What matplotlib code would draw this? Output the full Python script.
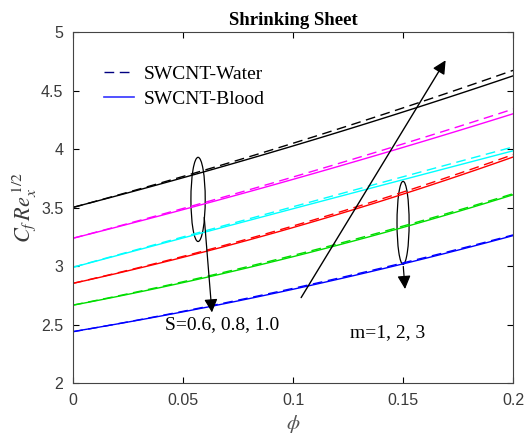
import matplotlib
matplotlib.use("Agg")
import matplotlib.pyplot as plt
import numpy as np
from matplotlib.patches import Ellipse

plt.rcParams['mathtext.fontset'] = 'stix'

phi = [0.0, 0.05, 0.10, 0.15, 0.20]
colors = ['black', 'magenta', 'cyan', 'red', '#00dd00', 'blue']
water = [
    [3.50, 3.77, 4.05, 4.35, 4.675],
    [3.24, 3.49, 3.76, 4.05, 4.34],
    [2.99, 3.25, 3.51, 3.76, 4.02],
    [2.85, 3.09, 3.34, 3.63, 3.955],
    [2.665, 2.87, 3.09, 3.34, 3.62],
    [2.44, 2.61, 2.81, 3.03, 3.265],
]
blood = [
    [3.50, 3.76, 4.03, 4.31, 4.63],
    [3.24, 3.48, 3.74, 4.02, 4.30],
    [2.99, 3.24, 3.49, 3.74, 3.985],
    [2.85, 3.08, 3.33, 3.61, 3.935],
    [2.665, 2.86, 3.08, 3.33, 3.61],
    [2.44, 2.61, 2.80, 3.02, 3.26],
]
xticks = [0, 0.05, 0.1, 0.15, 0.2]
xticklabels = ['0', '0.05', '0.1', '0.15', '0.2']
yticks = [2, 2.5, 3, 3.5, 4, 4.5, 5]
yticklabels = ['2', '2.5', '3', '3.5', '4', '4.5', '5']

fig = plt.figure(figsize=(5.30, 4.41), dpi=100)
ax = fig.add_axes([0.138, 0.1315, 0.830, 0.7955])

xs = np.linspace(0, 0.2, 100)
for c, w, b in zip(colors, water, blood):
    ax.plot(xs, np.polyval(np.polyfit(phi, w, 2), xs),
            '--', color=c, lw=1.0, dashes=(7, 4))
    ax.plot(xs, np.polyval(np.polyfit(phi, b, 2), xs), '-', color=c, lw=1.0)

ax.set_xlim(0, 0.2)
ax.set_ylim(2, 5)
ax.set_xticks(xticks)
ax.set_xticklabels(xticklabels)
ax.set_yticks(yticks)
ax.set_yticklabels(yticklabels)
ax.tick_params(direction='in', top=True, right=True, labelsize=11.5, length=4, pad=7)
for lab in ax.get_xticklabels() + ax.get_yticklabels():
    lab.set_family('Liberation Sans')
    lab.set_color('#3a3a3a')
for s in ax.spines.values():
    s.set_color('#444444')

ax.set_title('Shrinking Sheet', fontsize=13.5, fontweight='bold', family='Liberation Serif', pad=5)
ax.set_xlabel(r'$\phi$', fontsize=15, color='#555555', labelpad=4)
ax.set_ylabel(r'$C_f\,Re_x^{\,\mathit{1/2}}$', fontsize=16, color='#3a3a3a', labelpad=2)

# legend
lw_h, = ax.plot([], [], '--', color='navy', lw=1.0, dashes=(7, 4), label='SWCNT-Water')
lb_h, = ax.plot([], [], '-', color='#3333ff', lw=1.2, label='SWCNT-Blood')
leg = ax.legend(handles=[lw_h, lb_h], loc='upper left', bbox_to_anchor=(0.03, 0.955),
                frameon=False, prop={'family': 'Liberation Serif', 'size': 14},
                handlelength=1.55, handletextpad=0.5, labelspacing=0.35)

# annotations
ax.add_patch(Ellipse((0.0568, 3.57), 0.0065, 0.72, fill=False, color='black', lw=0.9))
ax.annotate('', xy=(0.0632, 2.58), xytext=(0.0595, 3.44),
            arrowprops=dict(arrowstyle='-|>', color='black', lw=0.9, mutation_scale=20))
ax.text(0.0418, 2.50, 'S=0.6, 0.8, 1.0', family='Liberation Serif', fontsize=14, va='center')

ax.add_patch(Ellipse((0.150, 3.37), 0.0055, 0.71, fill=False, color='black', lw=0.9))
ax.annotate('', xy=(0.151, 2.78), xytext=(0.150, 3.02),
            arrowprops=dict(arrowstyle='-|>', color='black', lw=0.9, mutation_scale=20))
ax.text(0.126, 2.43, 'm=1, 2, 3', family='Liberation Serif', fontsize=14, va='center')

ax.annotate('', xy=(0.170, 4.78), xytext=(0.103, 2.71),
            arrowprops=dict(arrowstyle='-|>', color='black', lw=1.0, mutation_scale=20))

fig.savefig('out.png', dpi=100)
